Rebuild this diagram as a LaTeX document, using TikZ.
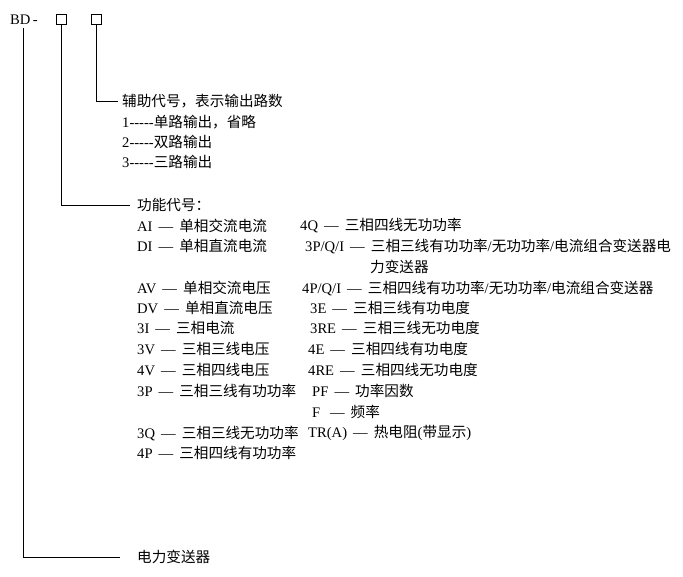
\documentclass[tikz,border=0pt]{standalone}
\usepackage{fontspec}
\setmainfont{Liberation Serif}
\newfontfamily\zhfont{Noto Sans CJK SC}
\newcommand{\zh}[1]{{\zhfont #1}}
\newcommand{\dsh}{-{}-{}-{}-{}-}
\usetikzlibrary{positioning}

\begin{document}
\begin{tikzpicture}[
    x=1pt, y=-1pt,
    txt/.style={anchor=west, inner sep=0pt, font=\fontsize{14.6}{16}\selectfont},
    codebox/.style={draw, minimum width=10pt, minimum height=10pt, inner sep=0pt, line width=0.6pt},
    lead/.style={line width=0.6pt}
]
\useasboundingbox (0,0) rectangle (683,577);
% head
\node[txt] (bd) at (10,20) {BD\,-};
\node[codebox] (b1) at (61.5,19.5) {};
\node[codebox] (b2) at (96.5,19.5) {};
% aux code
\node[txt] (aux) at (122,101) {\zh{辅助代号，表示输出路数}};
\node[txt] at (122,122) {1\dsh\zh{单路输出，省略}};
\node[txt] at (122,142) {2\dsh\zh{双路输出}};
\node[txt] at (122,162) {3\dsh\zh{三路输出}};
% function code
\node[txt] (fn) at (137,205) {\zh{功能代号：}};
\node[txt] at (137,226) {AI \,—\, \zh{单相交流电流}};
\node[txt] at (137,246) {DI \,—\, \zh{单相直流电流}};
\node[txt] at (137,288) {AV \,—\, \zh{单相交流电压}};
\node[txt] at (137,308) {DV \,—\, \zh{单相直流电压}};
\node[txt] at (137,328) {3I \,—\, \zh{三相电流}};
\node[txt] at (137,349) {3V \,—\, \zh{三相三线电压}};
\node[txt] at (137,370) {4V \,—\, \zh{三相四线电压}};
\node[txt] at (137,391) {3P \,—\, \zh{三相三线有功功率}};
\node[txt] at (137,433) {3Q \,—\, \zh{三相三线无功功率}};
\node[txt] at (137,453) {4P \,—\, \zh{三相四线有功功率}};
\node[txt] at (300,226) {4Q \,—\, \zh{三相四线无功功率}};
\node[txt] at (305,246) {3P/Q/I \,—\, \zh{三相三线有功功率}/\zh{无功功率}/\zh{电流组合变送器电}};
\node[txt] at (370,267) {\zh{力变送器}};
\node[txt] at (302,288) {4P/Q/I \,—\, \zh{三相四线有功功率}/\zh{无功功率}/\zh{电流组合变送器}};
\node[txt] at (310,308) {3E \,—\, \zh{三相三线有功电度}};
\node[txt] at (310,328) {3RE \,—\, \zh{三相三线无功电度}};
\node[txt] at (308,349) {4E \,—\, \zh{三相四线有功电度}};
\node[txt] at (308,370) {4RE \,—\, \zh{三相四线无功电度}};
\node[txt] at (312,391) {PF \,—\, \zh{功率因数}};
\node[txt] at (312,412) {F \ \,—\, \zh{频率}};
\node[txt] at (308,433) {TR(A) \,—\, \zh{热电阻}(\zh{带显示})};
% product name
\node[txt] (name) at (137,557) {\zh{电力变送器}};
% leads
\draw[lead] (23,28) |- ([xshift=-17pt]name.west);
\draw[lead] (b1.south) |- ([xshift=-7pt]fn.west);
\draw[lead] (b2.south) |- ([xshift=-4pt]aux.west);
\end{tikzpicture}
\end{document}
